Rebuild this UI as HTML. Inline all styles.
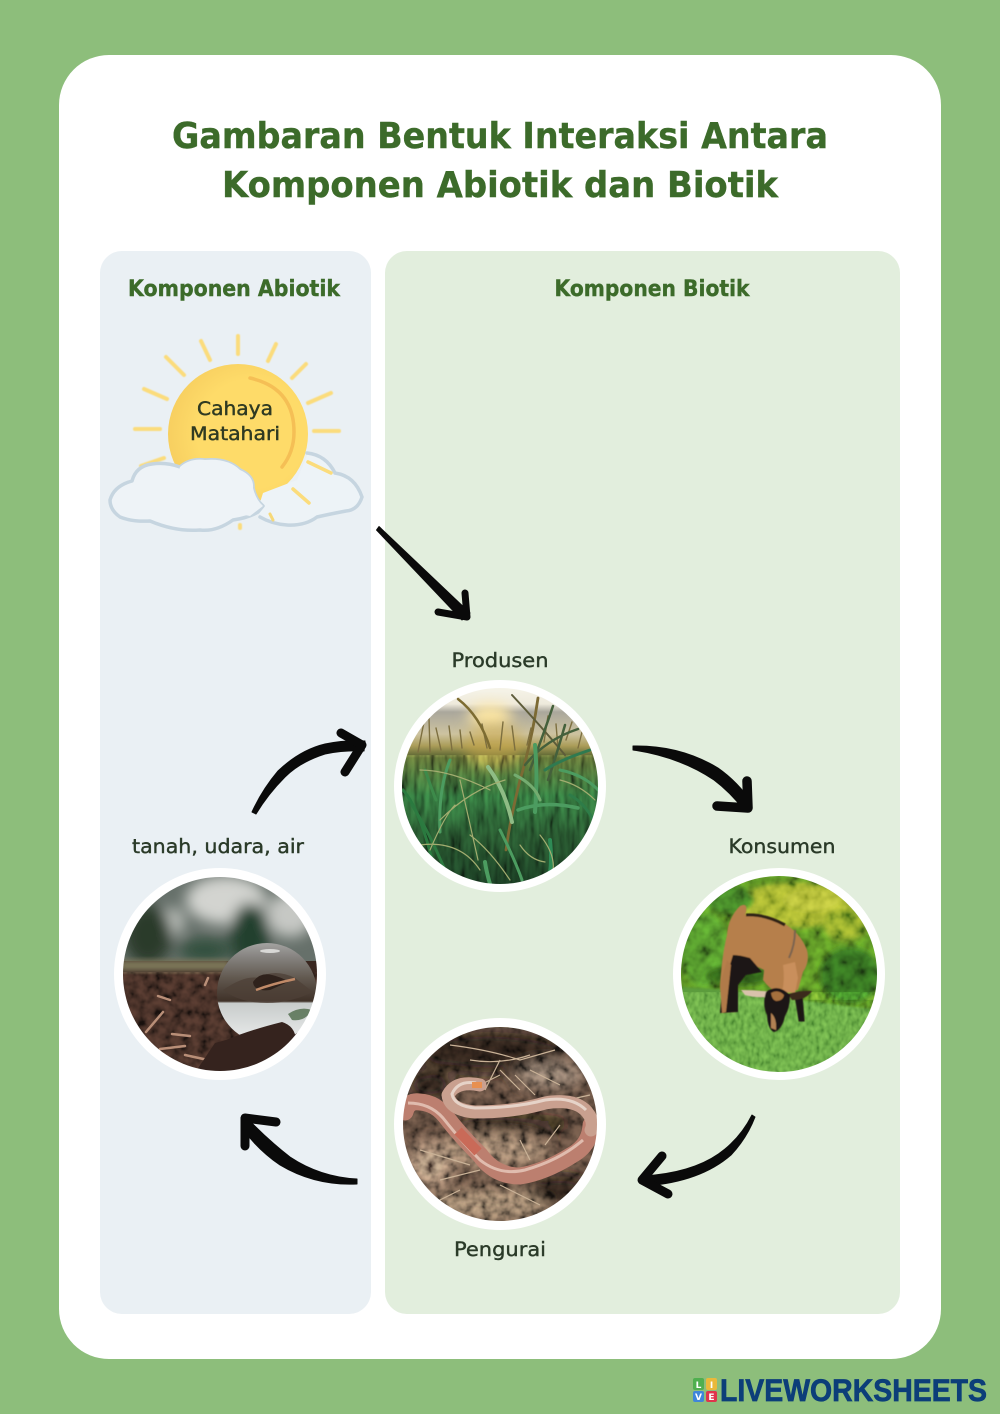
<!DOCTYPE html>
<html><head><meta charset="utf-8"><title>Gambaran Bentuk Interaksi</title>
<style>html,body{margin:0;padding:0;background:#8dbe7b}svg{display:block}text{font-family:"DejaVu Sans","Liberation Sans",sans-serif}.ov{mix-blend-mode:overlay}</style></head>
<body>
<svg xmlns="http://www.w3.org/2000/svg" width="1000" height="1414" viewBox="0 0 1000 1414">
<defs>
<filter id="b05" x="-20%" y="-20%" width="140%" height="140%"><feGaussianBlur stdDeviation=".6"/></filter>
<filter id="b1" x="-20%" y="-20%" width="140%" height="140%"><feGaussianBlur stdDeviation="1"/></filter>
<filter id="b2" x="-30%" y="-30%" width="160%" height="160%"><feGaussianBlur stdDeviation="3"/></filter>
<filter id="b3" x="-50%" y="-50%" width="200%" height="200%"><feGaussianBlur stdDeviation="7"/></filter>
<filter id="nG" x="0" y="0" width="100%" height="100%"><feTurbulence type="fractalNoise" baseFrequency=".2 .035" numOctaves="3" seed="4"/><feColorMatrix values="1.8 0 0 0 -.4 1.8 0 0 0 -.4 1.8 0 0 0 -.4 0 0 0 0 1"/><feGaussianBlur stdDeviation=".5"/></filter>
<filter id="nB" x="0" y="0" width="100%" height="100%"><feTurbulence type="fractalNoise" baseFrequency=".09" numOctaves="3" seed="9"/><feColorMatrix values="1.8 0 0 0 -.4 1.8 0 0 0 -.4 1.8 0 0 0 -.4 0 0 0 0 1"/><feGaussianBlur stdDeviation=".7"/></filter>
<filter id="nF" x="0" y="0" width="100%" height="100%"><feTurbulence type="fractalNoise" baseFrequency=".25 .15" numOctaves="2" seed="2"/><feColorMatrix values="1.5 0 0 0 -.25 1.5 0 0 0 -.25 1.5 0 0 0 -.25 0 0 0 0 1"/><feGaussianBlur stdDeviation=".5"/></filter>
<filter id="nS" x="0" y="0" width="100%" height="100%"><feTurbulence type="fractalNoise" baseFrequency=".11" numOctaves="3" seed="12"/><feColorMatrix values="2 0 0 0 -.5 2 0 0 0 -.5 2 0 0 0 -.5 0 0 0 0 1"/><feGaussianBlur stdDeviation=".6"/></filter>
<clipPath id="cg"><circle cx="500" cy="786" r="98"/></clipPath>
<clipPath id="ck"><circle cx="779" cy="974" r="98"/></clipPath>
<clipPath id="cw"><circle cx="500" cy="1124" r="97"/></clipPath>
<clipPath id="cs"><circle cx="220" cy="974" r="97"/></clipPath>
<linearGradient id="gs" x1="0" y1="686" x2="0" y2="886" gradientUnits="userSpaceOnUse"><stop offset="0" stop-color="#f7f5ea"/><stop offset=".09" stop-color="#eeeadc"/><stop offset=".13" stop-color="#aaa79c"/><stop offset=".24" stop-color="#cdc3a0"/><stop offset=".3" stop-color="#aa9c58"/><stop offset=".36" stop-color="#4f5e2d"/><stop offset=".55" stop-color="#2b6334"/><stop offset=".75" stop-color="#204626"/><stop offset="1" stop-color="#16321d"/></linearGradient>
<linearGradient id="gl" x1="0" y1="942" x2="0" y2="1044" gradientUnits="userSpaceOnUse"><stop offset="0" stop-color="#a5a5a3"/><stop offset=".15" stop-color="#85827f"/><stop offset=".35" stop-color="#625950"/><stop offset=".58" stop-color="#3f3128"/><stop offset=".6" stop-color="#c8cccb"/><stop offset="1" stop-color="#eceeee"/></linearGradient>
<radialGradient id="sun" cx=".6" cy=".5" r=".6"><stop offset=".65" stop-color="#fedb69"/><stop offset="1" stop-color="#f7cf60"/></radialGradient>
</defs>
<rect width="1000" height="1414" fill="#8dbe7b"/>
<rect x="59" y="55" width="882" height="1304" rx="50" fill="#fff"/>
<rect x="100" y="251" width="271" height="1063" rx="22" fill="#eaf0f4"/>
<rect x="385" y="251" width="515" height="1063" rx="22" fill="#e2eedd"/>

<g fill="#3c6b2a" stroke="#3c6b2a" stroke-width=".4" font-weight="700">
<text x="500" y="148" font-size="36" text-anchor="middle" textLength="656" lengthAdjust="spacingAndGlyphs">Gambaran Bentuk Interaksi Antara</text>
<text x="500" y="197" font-size="36" text-anchor="middle" textLength="556" lengthAdjust="spacingAndGlyphs">Komponen Abiotik dan Biotik</text>
<text x="234" y="296" font-size="22" text-anchor="middle" textLength="212" lengthAdjust="spacingAndGlyphs">Komponen Abiotik</text>
<text x="652" y="296" font-size="22" text-anchor="middle" textLength="195" lengthAdjust="spacingAndGlyphs">Komponen Biotik</text>
</g>

<!-- sun rays -->
<g stroke="#fbdc7c" stroke-width="4" stroke-linecap="round" fill="none" filter="url(#b05)">
<path d="M238 336V354M201 341L210 360M166 357L184 375M144 389L167 399M135 429H160M141 466L164 458M276 344L268 361M306 364L292 378M331 393L308 403M339 431H314M309 503L292 489M308 462L331 473M272 520L268 513M240 528V525"/>
</g>
<circle cx="238" cy="434" r="70" fill="url(#sun)"/>
<path d="M250 378Q294 388 294 432Q294 452 282 467" fill="none" stroke="#f5bf55" stroke-width="3.5" stroke-linecap="round"/>
<!-- back cloud -->
<path d="M263 493L297 480L308 453Q328 454 335 473Q355 476 362 497Q358 510 346 511Q330 514 317 517Q305 526 287 525Q270 524 257 512Z" fill="#edf3f7"/>
<path d="M307 453Q326 455 335 473Q355 476 362 497Q358 510 346 511Q330 514 317 517Q305 526 287 525Q272 524 260 517" fill="none" stroke="#c6d5e0" stroke-width="3.5" stroke-linecap="round"/>
<path d="M308 462L331 473M293 489L309 503" stroke="#fbdc7c" stroke-width="3.5" stroke-linecap="round"/>
<!-- front cloud -->
<path d="M110 500Q114 486 132 481Q136 466 152 464Q166 462 180 467Q190 458 205 460Q228 458 240 470Q254 476 253 488Q256 500 263 506L258 512Q248 518 233 520Q216 532 200 530Q176 532 150 521Q132 522 120 517Q110 510 110 500Z" fill="#eef3f7" stroke="#c6d5e0" stroke-width="3.5" stroke-linejoin="round"/>
<path d="M180 467Q190 458 205 460Q228 458 240 470Q254 476 253 488Q256 500 263 506L250 516L170 500Z" fill="#eef3f7"/>
<path d="M270 514L273 520" stroke="#f6d878" stroke-width="3" stroke-linecap="round"/>
<text x="235" y="415" font-size="19" text-anchor="middle" fill="#2f3a22" stroke="#2f3a22" stroke-width=".45" textLength="76" lengthAdjust="spacingAndGlyphs">Cahaya</text>
<text x="235" y="440" font-size="19" text-anchor="middle" fill="#2f3a22" stroke="#2f3a22" stroke-width=".45" textLength="90" lengthAdjust="spacingAndGlyphs">Matahari</text>

<g fill="#2a3a28" stroke="#2a3a28" stroke-width=".4" font-size="19.5">
<text x="500" y="667" text-anchor="middle" textLength="97" lengthAdjust="spacingAndGlyphs">Produsen</text>
<text x="782" y="853" text-anchor="middle" textLength="107" lengthAdjust="spacingAndGlyphs">Konsumen</text>
<text x="218" y="853" text-anchor="middle" textLength="172" lengthAdjust="spacingAndGlyphs">tanah, udara, air</text>
<text x="500" y="1256" text-anchor="middle" textLength="92" lengthAdjust="spacingAndGlyphs">Pengurai</text>
</g>

<!-- white rings -->
<circle cx="500" cy="786" r="106" fill="#fff"/>
<circle cx="779" cy="974" r="106" fill="#fff"/>
<circle cx="500" cy="1124" r="106" fill="#fff"/>
<circle cx="220" cy="974" r="106" fill="#fff"/>

<!-- grass photo -->
<g clip-path="url(#cg)">
<rect x="400" y="686" width="200" height="200" fill="url(#gs)"/>
<ellipse cx="490" cy="716" rx="22" ry="12" fill="#ffe9a8" filter="url(#b3)"/>
<ellipse cx="494" cy="745" rx="30" ry="22" fill="#c9a84c" opacity=".55" filter="url(#b3)"/>
<rect class="ov" x="400" y="755" width="200" height="132" filter="url(#nG)" opacity=".55"/>
<g fill="none" stroke-linecap="round">
<g stroke="#7d6f40" stroke-width="1.4">
<path d="M418 752L424 722M430 752L429 718M441 750L436 728M452 750L449 726M462 748L460 730M474 745L470 732M487 748L482 724M500 750L503 722M515 750L512 726M527 745L531 728M544 742L548 716M566 740L572 722M578 748L583 728M558 748L556 724"/>
</g>
<path d="M458 699Q480 716 490 748" stroke="#7d6c32" stroke-width="2.5"/>
<path d="M538 698Q532 740 520 780Q510 820 506 850" stroke="#7c6a34" stroke-width="2.8"/>
<path d="M512 695Q540 725 565 755" stroke="#5e5c3a" stroke-width="2"/>
<path d="M553 706Q545 730 530 770M578 729Q545 740 525 765M565 725Q555 760 548 780" stroke="#44603c" stroke-width="2.5"/>
<g stroke="#4c9c60" stroke-width="3">
<path d="M450 760Q438 790 440 832"/><path d="M488 767Q505 790 512 822" stroke="#8fbc85" stroke-width="4"/>
<path d="M535 745Q538 780 535 812" stroke-width="4"/><path d="M518 810Q545 800 578 808" stroke-width="3.5"/>
<path d="M560 770Q585 775 600 792"/><path d="M515 775Q535 785 540 800" stroke="#74ac70"/>
<path d="M500 830Q515 860 522 880"/><path d="M550 840Q552 860 550 872" stroke="#2e8b55" stroke-width="4"/>
<path d="M490 884Q486 870 485 862" stroke-width="4"/><path d="M403 790Q420 810 432 860" stroke="#2a7a3f"/>
<path d="M412 805Q428 830 445 870" stroke="#2c7a40"/><path d="M570 795Q588 805 598 830" stroke="#2e7c48"/>
<path d="M425 770Q432 790 436 800" stroke="#3d8a4a"/><path d="M590 750Q560 760 545 770" stroke="#2f7a50"/>
</g>
<g stroke="#a3ad70" stroke-width="1.2">
<path d="M440 820Q470 790 505 780M430 850Q445 815 455 805M470 835Q490 850 510 880M420 845Q460 840 480 870M540 835Q560 860 550 880M560 780Q580 785 595 800M420 770Q450 770 490 790M460 780L478 860M520 845Q530 860 545 862"/>
</g>
</g>
</g>

<!-- goat photo -->
<g clip-path="url(#ck)">
<rect x="680" y="875" width="200" height="200" fill="#507f20"/>
<g filter="url(#b2)">
<ellipse cx="795" cy="905" rx="60" ry="22" fill="#97a82a"/>
<ellipse cx="812" cy="900" rx="28" ry="12" fill="#a9b330"/>
<ellipse cx="845" cy="925" rx="22" ry="16" fill="#7f9c28"/>
<ellipse cx="850" cy="975" rx="30" ry="28" fill="#2f621e"/>
<ellipse cx="705" cy="950" rx="24" ry="38" fill="#4a8425"/>
<ellipse cx="730" cy="900" rx="25" ry="14" fill="#3a7221"/>
<ellipse cx="740" cy="975" rx="34" ry="10" fill="#2a5519"/>
</g>
<rect class="ov" x="680" y="875" width="200" height="125" filter="url(#nB)" opacity=".45"/>
<path d="M680 987L730 990L800 1000L880 1010V1080H680Z" fill="#5b9c3c" filter="url(#b1)"/>
<rect class="ov" x="680" y="992" width="200" height="85" filter="url(#nF)" opacity=".45"/>
<g filter="url(#b05)">
<path d="M727 935Q728 918 740 906Q748 902 746 912L745 915Q765 914 783 923Q800 932 807 950Q810 962 803 972L798 990L780 992Q772 992 763 980L764 970L748 962L738 980L737 1012L722 1013L720 985Q722 955 727 935Z" fill="#b67f4b"/>
<path d="M783 965Q785 980 782 992L795 993L798 978L795 962Z" fill="#c98f5c"/>
<path d="M733 955Q740 955 750 958L762 972L746 975L738 985L738 1012L720 1013L722 990L727 975Z" fill="#1d1612"/>
<path d="M722 1013L720 985L727 960L731 965L726 1012Z" fill="#b07a48"/>
<path d="M746 915Q765 914 785 925" stroke="#2f2019" stroke-width="3" fill="none"/>
<path d="M795 930Q795 945 789 958" stroke="#7a6350" stroke-width="2" fill="none"/>
<path d="M796 995L800 1020L803 1020L801 995Z" fill="#1d1612" stroke="#1d1612" stroke-width="3"/>
<path d="M741 990Q756 990 772 992L768 997Q755 998 745 995Z" fill="#d9c2ab"/>
<path d="M788 994Q802 990 812 991Q806 1000 792 1000Z" fill="#3a2a1e"/>
<path d="M766 992Q778 983 790 995Q790 1008 785 1016Q782 1030 774 1032Q768 1030 767 1015Q762 1005 766 992Z" fill="#1f1612"/>
<path d="M771 993Q778 989 784 995Q783 1001 776 1001Q772 1000 771 993Z" fill="#a56f3e"/>
<path d="M771 1013Q777 1018 776 1030L771 1028Z" fill="#b28152"/>
</g>
</g>

<!-- worm photo -->
<g clip-path="url(#cw)">
<rect x="400" y="1025" width="200" height="200" fill="#4f3e33"/>
<g filter="url(#b3)">
<ellipse cx="490" cy="1052" rx="75" ry="20" fill="#261b18"/>
<ellipse cx="430" cy="1085" rx="22" ry="14" fill="#261c18"/>
<ellipse cx="550" cy="1075" rx="34" ry="14" fill="#6e6054"/>
<ellipse cx="490" cy="1150" rx="60" ry="16" fill="#7e6b59"/>
<ellipse cx="490" cy="1205" rx="60" ry="16" fill="#7e6c59"/>
<ellipse cx="430" cy="1165" rx="24" ry="24" fill="#86715f"/>
<ellipse cx="560" cy="1190" rx="30" ry="14" fill="#271c18"/>
<ellipse cx="515" cy="1124" rx="55" ry="6" fill="#1c130e"/>
</g>
<rect class="ov" x="400" y="1025" width="200" height="200" filter="url(#nS)" opacity=".6"/>
<g fill="none" stroke="#c9b297" stroke-width="1.2">
<path d="M450 1045Q490 1050 520 1060L555 1050M470 1060Q500 1065 530 1055M500 1070L520 1090M530 1070L560 1085M480 1085L500 1075M545 1105L590 1095M420 1150L470 1165M440 1180L480 1170M520 1140L530 1160M560 1125L545 1145M500 1185L540 1205M430 1205L460 1190M500 1060L485 1090M515 1075L535 1095"/>
</g>
<path d="M405 1112Q408 1100 420 1102Q436 1103 447 1118Q460 1135 480 1155Q495 1176 520 1176Q545 1172 572 1155Q590 1145 591 1125" fill="none" stroke="#bc7f6f" stroke-width="17" stroke-linecap="round" stroke-linejoin="round"/>
<path d="M480 1085Q456 1080 448 1095Q450 1110 475 1112Q515 1112 545 1103Q575 1098 587 1112Q595 1122 591 1130" fill="none" stroke="#c9a08f" stroke-width="13" stroke-linecap="round" stroke-linejoin="round"/>
<path d="M476 1083Q458 1080 452 1094Q454 1106 475 1108Q515 1108 545 1100Q572 1096 586 1110" fill="none" stroke="#e6d3c8" stroke-width="3"/>
<path d="M408 1103Q430 1103 443 1118Q462 1142 480 1160Q500 1176 525 1170Q560 1160 583 1140" fill="none" stroke="#e0bcae" stroke-width="3"/>
<path d="M458 1131L478 1152" stroke="#c96a58" stroke-width="10"/>
<path d="M472 1085L482 1085" stroke="#e89050" stroke-width="6"/>
</g>

<!-- soil photo -->
<g clip-path="url(#cs)">
<rect x="120" y="875" width="200" height="90" fill="#66706a"/>
<g filter="url(#b3)">
<ellipse cx="226" cy="900" rx="40" ry="24" fill="#d3d4d0"/>
<ellipse cx="290" cy="915" rx="24" ry="22" fill="#c6c8c4"/>
<ellipse cx="172" cy="922" rx="12" ry="14" fill="#bfc3be"/>
<ellipse cx="250" cy="935" rx="20" ry="32" fill="#24412f"/>
<ellipse cx="148" cy="935" rx="24" ry="30" fill="#2a3a2c"/>
<ellipse cx="205" cy="950" rx="26" ry="12" fill="#33503c"/>
</g>
<rect x="120" y="961" width="200" height="120" fill="#3a2720"/>
<rect x="120" y="960" width="110" height="11" fill="#7c7658" filter="url(#b2)"/>
<rect class="ov" x="120" y="972" width="200" height="108" filter="url(#nS)" opacity=".6"/>
<g fill="none" stroke="#b98f78" stroke-width="2.5" stroke-linecap="round">
<path d="M146 1032L163 1012M172 1034L190 1036M160 1049L185 1046M185 1055L208 1060M205 985L208 978M170 1000L158 996"/>
</g>
<circle cx="267" cy="993" r="50" fill="url(#gl)"/>
<path d="M223 990Q245 975 258 978Q275 968 295 978L313 992Q290 1003 267 1003Q240 1003 223 990Z" fill="#4e4037" opacity=".75"/>
<path d="M253 982Q260 972 272 975Q284 978 288 982L270 990Q254 992 253 982Z" fill="#2f221c"/>
<path d="M256 990Q272 984 295 979" stroke="#c08a68" stroke-width="2.5" fill="none"/>
<ellipse cx="270" cy="951" rx="10" ry="2" fill="#d8d8d6"/>
<path d="M288 1014Q300 1006 312 1010Q305 1022 292 1020Z" fill="#4d6a4a" opacity=".8"/>
<path d="M226 1040Q250 1030 282 1022Q295 1026 296 1040L300 1080H190L215 1043Z" fill="#35231e"/>
</g>

<!-- arrows -->
<g fill="#0a0a0a" stroke="#0a0a0a" stroke-width="1" stroke-linejoin="round">
<path d="M379 526.5L470 613L462 620L376.5 530Z"/>
<path d="M633 746Q680 745 718 768Q738 782 752 803L744 810Q730 792 714 780Q680 757 633 750Z"/>
<path d="M252 812Q262 790 278 771Q300 750 325 744Q345 740 365 741L364 751Q345 750 325 754Q300 762 285 777Q268 794 256 814Z"/>
<path d="M752 1115Q742 1135 725 1149Q700 1170 655 1175L645 1176L645 1186Q700 1182 731 1155Q747 1138 755 1117Z"/>
<path d="M357 1179Q320 1177 290 1157Q268 1140 247 1118L242 1128Q258 1150 280 1165Q315 1186 357 1184Z"/>
</g>
<g fill="none" stroke="#0a0a0a" stroke-linecap="round" stroke-linejoin="round">
<path d="M438 612L467 617L465 593" stroke-width="7"/>
<path d="M717 806L748 808L747 781" stroke-width="9.5"/>
<path d="M341 733L362 745L345 772" stroke-width="9"/>
<path d="M662 1156L642 1180L668 1194" stroke-width="9"/>
<path d="M276 1122L245 1118L245 1146" stroke-width="9"/>
</g>

<!-- logo -->
<g>
<rect x="693" y="1378" width="11" height="12" rx="2" fill="#4faf4f"/>
<rect x="706" y="1378" width="11" height="12" rx="2" fill="#e9b93b"/>
<rect x="693" y="1391" width="11" height="11" rx="2" fill="#3f86d9"/>
<rect x="706" y="1391" width="11" height="11" rx="2" fill="#e0344c"/>
<g font-size="9" fill="#fff" font-weight="700" text-anchor="middle"><text x="698.5" y="1388">L</text><text x="711.5" y="1388">I</text><text x="698.5" y="1400">V</text><text x="711.5" y="1400">E</text></g>
<text x="720" y="1401" font-size="31.5" font-weight="700" fill="#0c3e79" stroke="#0c3e79" stroke-width=".7" textLength="267" lengthAdjust="spacingAndGlyphs" style="font-family:'Liberation Sans',sans-serif">LIVEWORKSHEETS</text>
</g>
</svg>
</body></html>
